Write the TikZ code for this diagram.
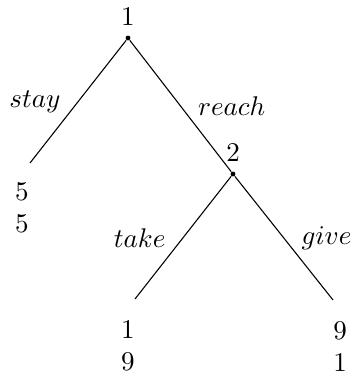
\documentclass[tikz,border=0pt]{standalone}
\usepackage{tikz}
\usetikzlibrary{positioning}

\begin{document}
\begin{tikzpicture}[
    x=3.7pt, y=3.7pt,
    decision/.style={circle, fill=black, inner sep=0pt, minimum size=1.8pt},
    move/.style={midway},
    payoff/.style={align=center}
]
    \useasboundingbox (-12.8,3.8) rectangle (22.7,-34.3);

    \node[decision, label={above:1}] (root) at (0,0) {};
    \node[decision, label={above:2}] (second) at (10.5,-13.6) {};
    \coordinate (stayend) at (-9.8,-12.5);
    \coordinate (takeend) at (0.7,-26.1);
    \coordinate (giveend) at (20.5,-26.2);

    \draw (root) -- node[move, left=3pt] {$stay$} (stayend);
    \draw (root) -- node[move, right=3pt] {$reach$} (second);
    \draw (second) -- node[move, left=3pt] {$take$} (takeend);
    \draw (second) -- node[move, right=3pt] {$give$} (giveend);

    \node[payoff, below=3.6pt of stayend, xshift=-3pt] (staypay) {5\\5};
    \node[payoff, below=4.4pt of takeend, xshift=-2.6pt] (takepay) {1\\9};
    \node[payoff, below=4.4pt of giveend, xshift=2.6pt] (givepay) {9\\1};
\end{tikzpicture}
\end{document}
